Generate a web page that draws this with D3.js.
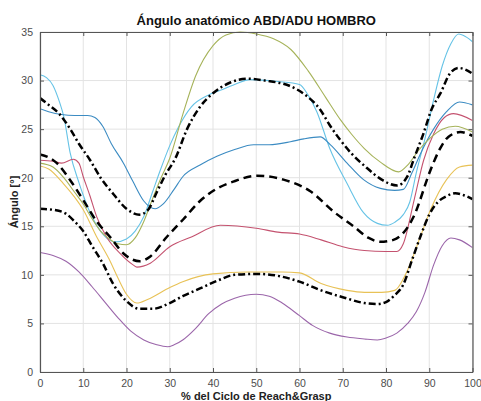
<!DOCTYPE html>
<html>
<head>
<meta charset="utf-8">
<script src="https://d3js.org/d3.v7.min.js"></script>
<style>
  body { margin: 0; background: #fff; }
  svg text { font-family: "Liberation Sans", Arial, sans-serif; }
</style>
</head>
<body>
<script>
// ---- data (x = % of cycle, y = angle in degrees) ----
var xTicks = [0, 10, 20, 30, 40, 50, 60, 70, 80, 90, 100];
var yTicks = [0, 5, 10, 15, 20, 25, 30, 35];

var lightBlue = [[0,30.6],[1.5,30.3],[3,29.5],[4.5,27.8],[5.5,26.3],[7,22.5],[9,19.5],[10,18.2],[12,16],[14,14.5],[16,13.6],[17.5,13.4],[20,13.7],[22,14.5],[24,16],[26,18.5],[28,21],[30,23.3],[32,25.2],[35,27.3],[38.9,28.5],[41.7,29],[45,29.6],[48.6,30.1],[55,29.9],[60,29.6],[62,28.5],[64,26.8],[67,23],[71,19.4],[74.8,16.4],[78,15.3],[80.3,15.1],[82,15.4],[84,16.2],[85.5,17.5],[87,20.5],[89,24],[91,28],[93,31.5],[95,33.8],[96.8,34.8],[98.5,34.5],[100,34]];
var blue = [[0,27.1],[2,26.8],[5,26.5],[8,26.4],[11,26.4],[12.7,26.2],[14.5,25.3],[16.5,23.5],[19.3,21.5],[21.5,19.6],[24,17.6],[26.6,16.8],[28.5,17.3],[31,18.8],[33,20.1],[37,21.3],[40.9,22.2],[45,22.9],[49.4,23.4],[53,23.4],[57.9,23.7],[61,24],[64.8,24.2],[67.1,23.4],[71,21.5],[74.8,19.8],[78.7,18.9],[82,18.7],[84,18.8],[86,20.5],[88,22.5],[91,25],[94,26.8],[97,27.8],[100,27.5]];
var red = [[0,21.8],[3,21.7],[5,21.5],[7.7,21.9],[9,21.5],[10,20.1],[11.5,18.2],[13.1,16],[15.4,13.9],[18.5,12.2],[21.6,11],[22.4,10.8],[25.5,11.2],[30,12.9],[35,13.9],[41.7,15.1],[50,14.8],[55,14.4],[60,14.2],[65,13.6],[70,12.9],[75,12.5],[80,12.4],[82.5,12.4],[84,13.2],[86.5,17.7],[88.7,21.8],[91,24.5],[93.5,26.2],[95.6,26.6],[100,25.9]];
var yellow = [[0,21.2],[2,20.9],[5.4,19.4],[8,18],[10,16.7],[13,14],[16,11.6],[18,9.7],[20,8],[22.4,7.1],[25,7.5],[30,8.7],[33,9.3],[40,10.1],[48,10.3],[56,10.3],[60,10.2],[65,9.1],[71,8.4],[75,8.2],[79,8.2],[82,8.4],[85,10.5],[88,14],[90.3,16.7],[94,19.8],[97,21.1],[100,21.3]];
var purple = [[0,12.3],[3,12],[6,11.4],[9,10.3],[12,8.8],[15,7.2],[18,5.6],[21,4.2],[24,3.3],[27,2.8],[29.5,2.6],[31,2.8],[33,3.3],[36,4.5],[39,6],[42,7],[45,7.6],[50,8],[53,7.8],[56,7.1],[60,5.8],[63,4.8],[67,4],[71,3.6],[75,3.4],[78,3.3],[80,3.5],[82.5,4],[85,5],[87,6.2],[89,8.2],[91,11],[93,13],[95,13.8],[97,13.6],[100,12.8]];
var green = [[0,21.5],[3,21.1],[5.5,20],[8,18.5],[10,17.3],[12,15.8],[14,14.5],[16,13.7],[18,13.2],[20,13.1],[22,13.8],[24,15.5],[26,17.8],[28,20],[30,22],[33,26.5],[36,30.5],[40,33.6],[43,34.7],[46.3,35],[50,34.8],[54,34.3],[58,33.2],[62,31],[66,28.3],[69.4,26],[72,24.5],[75,23],[78.7,21.6],[82.9,20.6],[85,21.3],[87.5,22.8],[90,24],[93,25],[96,25.3],[100,24.7]];

var meanPlusSd = [[0,28.2],[2,27.5],[4.6,26.5],[7,25],[9,23.5],[11.6,21.8],[14,20],[17,18.3],[20,16.8],[23,16.2],[25,16.7],[27,18.5],[29,20.3],[31.3,22],[34,25],[37,27.3],[40,28.7],[44,29.8],[48,30.2],[52,30],[58,29.4],[61.7,28.4],[64.8,27],[67,25.4],[69.4,23.9],[72,22.5],[75.6,21],[79,19.8],[82.6,19.2],[84.9,20.1],[86.5,22],[88.7,24.6],[90.5,27],[92.6,28.7],[94.9,30.8],[96.8,31.3],[98.5,31.1],[100,30.7]];
var meanLine = [[0,22.4],[2,22.1],[3.9,21.5],[6.9,19.8],[10,17.7],[13.1,15.5],[16.2,13.9],[19.3,12.2],[23.1,11.4],[25.5,11.9],[29.3,13.9],[33.1,15.7],[37,17.6],[41,18.9],[44.7,19.6],[50.2,20.2],[56.3,19.8],[62.5,18.6],[67.9,16.5],[72.5,15],[76,13.8],[78.7,13.4],[81.7,13.6],[83.3,14],[86.4,16],[90.3,20.8],[92.5,23],[94.4,24.2],[97.2,24.7],[100,24.3]];
var meanMinusSd = [[0,16.8],[3,16.7],[6,16.3],[8,15.5],[10,14.5],[12,13],[14.5,11.2],[17,9],[20,7.3],[23,6.5],[26,6.5],[30,7.1],[33,7.8],[37,8.6],[41,9.4],[45,10],[50,10.1],[55,9.9],[60,9.3],[65,8.4],[70,7.7],[75,7.1],[78,7],[80,7.2],[82,7.9],[84,9],[86,11.5],[88,14],[90,16.2],[92,17.5],[94,18.1],[96,18.4],[98,18.2],[100,17.8]];

var w = 481, h = 401;
var padL = 40, padR = 472.5, padT = 32, padB = 372;

var svg = d3.select("body").append("svg")
  .attr("width", w).attr("height", h);

var x = d3.scaleLinear().domain([0, 100]).range([padL, padR]);
var y = d3.scaleLinear().domain([0, 35]).range([padB, padT]);

// grid
var grid = svg.append("g").attr("stroke", "#e3e3e3").attr("stroke-width", 1);
xTicks.forEach(function(t) {
  grid.append("line").attr("x1", x(t)).attr("x2", x(t)).attr("y1", padT).attr("y2", padB);
});
yTicks.forEach(function(t) {
  grid.append("line").attr("x1", padL).attr("x2", padR).attr("y1", y(t)).attr("y2", y(t));
});

svg.append("clipPath").attr("id", "clip")
  .append("rect").attr("x", padL).attr("y", padT - 2).attr("width", padR - padL).attr("height", padB - padT + 2);

var line = d3.line()
  .x(function(d) { return x(d[0]); })
  .y(function(d) { return y(d[1]); })
  .curve(d3.curveMonotoneX);

var plot = svg.append("g").attr("clip-path", "url(#clip)");

var colored = [
  [lightBlue, "#66c3e6"],
  [blue, "#3b8bc2"],
  [red, "#c4526f"],
  [yellow, "#e8c257"],
  [purple, "#9b66aa"],
  [green, "#a6b35a"]
];
colored.forEach(function(s) {
  plot.append("path").datum(s[0])
    .attr("d", line)
    .attr("fill", "none")
    .attr("stroke", s[1])
    .attr("stroke-width", 1.1);
});

// black mean and +/- SD lines
plot.append("path").datum(meanPlusSd).attr("d", line)
  .attr("fill", "none").attr("stroke", "#000").attr("stroke-width", 2.5)
  .attr("stroke-dasharray", "7,3,2,3");
plot.append("path").datum(meanMinusSd).attr("d", line)
  .attr("fill", "none").attr("stroke", "#000").attr("stroke-width", 2.5)
  .attr("stroke-dasharray", "7,3,2,3");
plot.append("path").datum(meanLine).attr("d", line)
  .attr("fill", "none").attr("stroke", "#000").attr("stroke-width", 2.5)
  .attr("stroke-dasharray", "8,5");

// axes (ticks inside, box on all sides)
var axColor = "#555";
var xAxis = svg.append("g")
  .attr("transform", "translate(0," + padB + ")")
  .call(d3.axisBottom(x).tickValues(xTicks).tickSizeInner(-4).tickSizeOuter(0).tickPadding(8));
var yAxis = svg.append("g")
  .attr("transform", "translate(" + padL + ",0)")
  .call(d3.axisLeft(y).tickValues(yTicks).tickSizeInner(-4).tickSizeOuter(0).tickPadding(7));
var xTop = svg.append("g")
  .attr("transform", "translate(0," + padT + ")")
  .call(d3.axisTop(x).tickValues(xTicks).tickSizeInner(-4).tickSizeOuter(0).tickFormat(""));
var yRight = svg.append("g")
  .attr("transform", "translate(" + padR + ",0)")
  .call(d3.axisRight(y).tickValues(yTicks).tickSizeInner(-4).tickSizeOuter(0).tickFormat(""));
[xAxis, yAxis, xTop, yRight].forEach(function(g) {
  g.selectAll("path").attr("stroke", axColor).attr("stroke-width", 1.2);
  g.selectAll("line").attr("stroke", axColor);
  g.selectAll("text").attr("fill", "#4d4d4d").style("font-size", "10.5px")
    .style("font-family", "'Liberation Sans', Arial, sans-serif");
});

// labels
svg.append("text")
  .attr("x", (padL + padR) / 2).attr("y", 25)
  .attr("text-anchor", "middle")
  .style("font-size", "13px").style("font-weight", "bold")
  .attr("fill", "#111")
  .text("Ángulo anatómico ABD/ADU HOMBRO");

svg.append("text")
  .attr("x", (padL + padR) / 2).attr("y", 400)
  .attr("text-anchor", "middle")
  .style("font-size", "11px").style("font-weight", "bold")
  .attr("fill", "#222")
  .text("% del Ciclo de Reach&Grasp");

svg.append("text")
  .attr("transform", "translate(18," + ((padT + padB) / 2) + ") rotate(-90)")
  .attr("text-anchor", "middle")
  .style("font-size", "11px").style("font-weight", "bold")
  .attr("fill", "#222")
  .text("Ángulo [°]");
</script>
</body>
</html>
